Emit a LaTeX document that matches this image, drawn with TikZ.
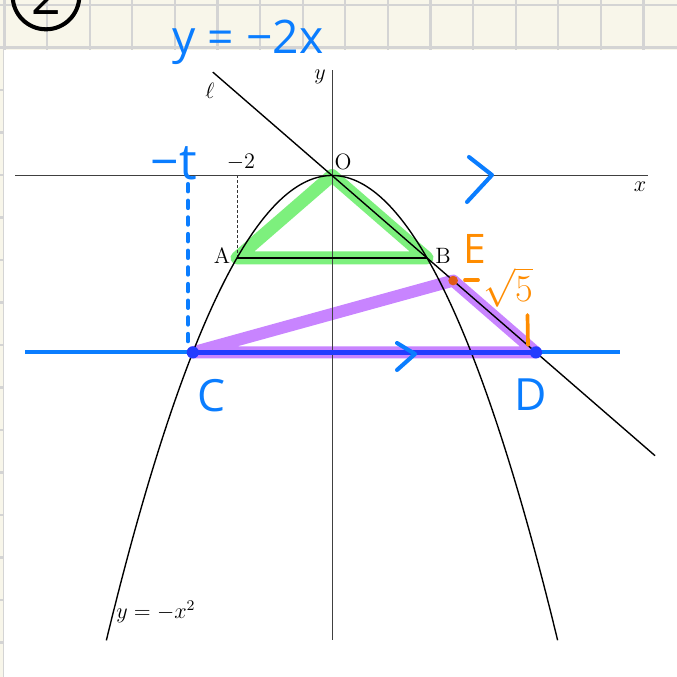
\documentclass[tikz,border=0pt]{standalone}
\usepackage{fontspec}
\newfontfamily\handfont{Open Sans}

\definecolor{penblue}{RGB}{10,125,255}
\definecolor{deepblue}{RGB}{35,60,255}
\definecolor{hlgreen}{RGB}{125,240,125}
\definecolor{hlpurple}{RGB}{200,132,255}
\definecolor{penorange}{RGB}{255,140,0}
\definecolor{dotorange}{RGB}{225,90,20}
\definecolor{paper}{RGB}{248,246,234}
\definecolor{gridgray}{RGB}{212,212,212}

\begin{document}
\begin{tikzpicture}[x=0.019cm, y=-0.019cm,
  pen/.style={penblue, line width=2.2pt, line cap=round, line join=round},
  hand/.style={font=\handfont\fontsize{22}{24}\selectfont, text=penblue, inner sep=0pt},
  print/.style={inner sep=0pt, font=\large}]

\useasboundingbox (0,0) rectangle (677,677);

% Cahier
\fill[paper] (0,0) rectangle (677,677);
\foreach \i in {0,...,15}
{
\draw[gridgray, line width=1.1pt] ({4.5+42.6*\i},0) -- ({4.5+42.6*\i},677);
\draw[gridgray, line width=1.1pt] (0,{5+42.5*\i}) -- (677,{5+42.5*\i});
}
\fill[white] (4,50) rectangle (677,677);

% Numero
\node[draw, circle, line width=2.2pt, inner sep=0pt, minimum size=36pt,
  font=\handfont\fontsize{28}{30}\selectfont] (num) at (46,-4) {2};

% Repere
\begin{scope}[shift={(332,175.5)}, x=0.9025cm, y=0.3914cm]
\coordinate (O) at (0,0);
\coordinate (A) at (-2,-4);
\coordinate (B) at (2,-4);
\coordinate (C) at (-2.93,-8.585);
\coordinate (D) at (4.2925,-8.585);
\coordinate (E) at (2.55,-5.1);

% Surlignages
\draw[hlgreen, line width=7pt, line join=round, line cap=round] (O) -- (A) -- (B) -- cycle;
\draw[hlpurple, line width=6.5pt, line join=round, line cap=round] (C) -- (E) -- (D) -- cycle;

% Axes
\draw[black!75, line width=0.5pt] (-6.67,0) -- (6.65,0);
\draw[black!75, line width=0.5pt] (0,5.12) -- (0,-22.56);
\draw[black!80, line width=0.4pt, dash pattern=on 1.5pt off 1.2pt] (-2,0) -- (A);

% Parabole et droite
\draw[line width=0.75pt, domain=-4.75:4.75, samples=90, smooth] plot (\x,{-(\x)^2});
\draw[line width=0.75pt] (-2.51,5.02) -- (6.8,-13.6);
\draw[line width=0.75pt] (A) -- (B);
\end{scope}

% Textes imprimes
\node[print] (lx) at (640,187) {$x$};
\node[print] (ly) at (320,77) {$y$};
\node[print] (lO) at (343,162) {O};
\node[print] (lm2) at (241,162) {$-2$};
\node[print] (ll) at (210,91) {$\ell$};
\node[print] (lA) at (222,256) {A};
\node[print] (lB) at (443,256) {B};
\node[print, anchor=west] (lpar) at (116,612) {$y=-x^2$};

% Annotations
\coordinate (bl) at (25,352.4);
\coordinate (br) at (620,352.4);
\draw[pen, line cap=butt] (bl) -- (br);
\draw[deepblue, line width=2.6pt] (C) -- (D);
\fill[deepblue] (C) circle[radius=3.3pt];
\fill[deepblue] (D) circle[radius=3.3pt];
\fill[dotorange] (E) circle[radius=2.6pt];

\draw[pen, dash pattern=on 4pt off 5pt] (188,184) -- (188,343);
\draw[pen] (469,157) -- (492,175) -- (467,202);
\draw[pen] (397,343) -- (415,354) -- (397,370);

\node[hand, font=\handfont\fontsize{25}{27}\selectfont] (eq) at (248,42) {y = −2x};
\node[hand, font=\handfont\fontsize{27}{29}\selectfont] (mt) at (174,163) {−t};
\node[hand, font=\handfont\fontsize{24}{26}\selectfont] (lC) at (212,396) {C};
\node[hand, font=\handfont\fontsize{24}{26}\selectfont] (lD) at (531,395) {D};

\node[hand, text=penorange, font=\handfont\fontsize{22}{24}\selectfont] (lE) at (475,249) {E};
\node[hand, text=penorange, font=\fontsize{20}{22}\selectfont] (r5) at (508,287) {$\sqrt{5}$};
\draw[penorange, line width=2pt, line cap=round] (465,280) -- (478,280);
\draw[penorange, line width=2pt, line cap=round] (527.5,315) -- (528,345);

\end{tikzpicture}
\end{document}
